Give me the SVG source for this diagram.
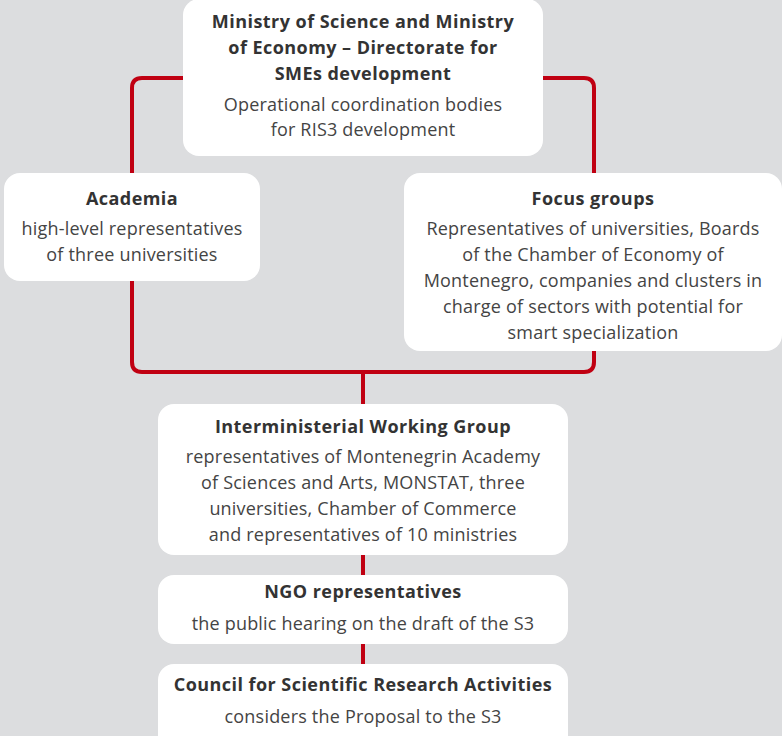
<svg xmlns="http://www.w3.org/2000/svg" width="782" height="736" viewBox="0 0 782 736">
<style>
.box{fill:#ffffff}
.t{font-family:"Open Sans",sans-serif;font-size:18px;font-weight:bold;fill:#333333;text-anchor:middle;letter-spacing:0.45px}
.b{font-family:"Open Sans",sans-serif;font-size:18px;fill:#444444;text-anchor:middle;letter-spacing:0.2px}
.c{fill:none;stroke:#c00012;stroke-width:4}
</style>
<rect width="782" height="736" fill="#dcdddf"/>
<g id="connectors">
<path class="c" d="M183 78 H142 Q132 78 132 88 V362 Q132 372 142 372 H584 Q594 372 594 362 V88 Q594 78 584 78 H543"/>
<path class="c" d="M363 372 V404"/>
<path class="c" d="M363 555 V575"/>
<path class="c" d="M363 644 V664"/>
</g>
<g id="ministry">
<rect class="box" x="183" y="-1" width="360" height="157" rx="16"/>
<text class="t" x="363" y="28">Ministry of Science and Ministry</text>
<text class="t" x="363" y="54">of Economy – Directorate for</text>
<text class="t" x="363" y="80">SMEs development</text>
<text class="b" x="363" y="111">Operational coordination bodies</text>
<text class="b" x="363" y="136">for RIS3 development</text>
</g>
<g id="academia">
<rect class="box" x="4" y="173" width="256" height="108" rx="16"/>
<text class="t" x="132" y="205">Academia</text>
<text class="b" x="132" y="235">high-level representatives</text>
<text class="b" x="132" y="261">of three universities</text>
</g>
<g id="focus">
<rect class="box" x="404" y="173" width="378" height="178" rx="16"/>
<text class="t" x="593" y="205">Focus groups</text>
<text class="b" x="593" y="235">Representatives of universities, Boards</text>
<text class="b" x="593" y="261">of the Chamber of Economy of</text>
<text class="b" x="593" y="287">Montenegro, companies and clusters in</text>
<text class="b" x="593" y="313">charge of sectors with potential for</text>
<text class="b" x="593" y="339">smart specialization</text>
</g>
<g id="interministerial">
<rect class="box" x="158" y="404" width="410" height="151" rx="16"/>
<text class="t" x="363" y="433">Interministerial Working Group</text>
<text class="b" x="363" y="463">representatives of Montenegrin Academy</text>
<text class="b" x="363" y="489">of Sciences and Arts, MONSTAT, three</text>
<text class="b" x="363" y="515">universities, Chamber of Commerce</text>
<text class="b" x="363" y="541">and representatives of 10 ministries</text>
</g>
<g id="ngo">
<rect class="box" x="158" y="575" width="410" height="69" rx="16"/>
<text class="t" x="363" y="598">NGO representatives</text>
<text class="b" x="363" y="630">the public hearing on the draft of the S3</text>
</g>
<g id="council">
<rect class="box" x="158" y="664" width="410" height="92" rx="16"/>
<text class="t" x="363" y="691">Council for Scientific Research Activities</text>
<text class="b" x="363" y="723">considers the Proposal to the S3</text>
</g>
</svg>
